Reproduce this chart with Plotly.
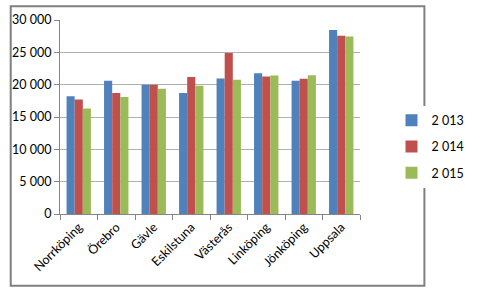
import plotly.graph_objects as go

cities = ["Norrköping", "Örebro", "Gävle", "Eskilstuna", "Västerås", "Linköping", "Jönköping", "Uppsala"]
series_names = ["2 013", "2 014", "2 015"]
v2013 = [18200, 20600, 20000, 18700, 20950, 21750, 20600, 28450]
v2014 = [17700, 18700, 20000, 21200, 24900, 21250, 20900, 27550]
v2015 = [16300, 18100, 19350, 19850, 20750, 21400, 21450, 27450]
colors = ["#4F81BD", "#C0504D", "#9BBB59"]
y_ticks = [0, 5000, 10000, 15000, 20000, 25000, 30000]

W, H = 481, 289
ml, mr, mt, mb = 58, 76, 15, 75

fig = go.Figure()
for name, vals, col in zip(series_names, [v2013, v2014, v2015], colors):
    fig.add_trace(go.Bar(x=cities, y=vals, name=name, marker_color=col,
                         marker_line_width=0, legendgroup=name))

pw = W - ml - mr
ph = H - mt - mb
fig.add_shape(type="rect", xref="paper", yref="paper",
              x0=(1 - ml) / pw, x1=(W - 1.5 - ml) / pw,
              y0=-(H - 1.5 - mt - ph) / ph, y1=(mt - 1) / ph + 1,
              line=dict(color="#808080", width=2), fillcolor="rgba(0,0,0,0)")

fig.update_layout(
    width=W, height=H,
    margin=dict(l=ml, r=mr, t=mt, b=mb, pad=0),
    paper_bgcolor="white", plot_bgcolor="white",
    separators=". ",
    barmode="group", bargap=0.35, bargroupgap=0,
    font=dict(family="Lato, Open Sans, sans-serif", size=12, color="#000000"),
    legend=dict(x=1.105, y=0.347, xanchor="left", yanchor="middle",
                traceorder="grouped", tracegroupgap=7,
                font=dict(size=12.5), itemwidth=30),
    showlegend=True,
)
fig.update_xaxes(tickangle=-45, showline=True, linecolor="#868686", linewidth=1,
                 ticks="outside", tickson="boundaries", ticklen=5, tickcolor="#868686",
                 showgrid=False, tickfont=dict(size=12.5))
fig.update_yaxes(range=[0, 30000], tickvals=y_ticks, tickformat=",d",
                 showline=True, linecolor="#868686", linewidth=1,
                 ticks="outside", ticklen=5, tickcolor="#868686",
                 showgrid=True, gridcolor="#B0B0B0", gridwidth=1, zeroline=False,
                 tickfont=dict(size=12.5))

fig.write_html("out.html")
